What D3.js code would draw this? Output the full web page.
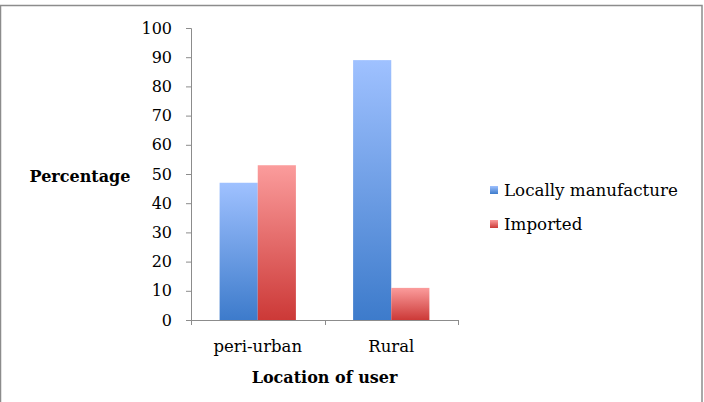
<!DOCTYPE html>
<html>
<head>
<meta charset="utf-8">
<script src="https://cdn.jsdelivr.net/npm/d3@7"></script>
<style>
  body { margin: 0; background: #fff; }
  text { font-family: "DejaVu Serif", "Liberation Serif", serif; fill: #000; }
</style>
</head>
<body>
<div id="chart"></div>
<script>
// Location of user vs origin of product

const categories = ["peri-urban", "Rural"];
const seriesNames = ["Locally manufacture", "Imported"];
const localValues = [47, 89];
const importedValues = [53, 11];
const yTicks = [0, 10, 20, 30, 40, 50, 60, 70, 80, 90, 100];

const width = 704;
const height = 402;
const margin = {top: 28, left: 191, right: 246, bottom: 82};

const svg = d3.select("#chart")
    .append("svg")
    .attr("width", width)
    .attr("height", height);

// outer frame
svg.append("rect")
    .attr("x", 0.5)
    .attr("y", 5.5)
    .attr("width", 701.5)
    .attr("height", 410)
    .attr("fill", "none")
    .attr("stroke", "#8c8c8c")
    .attr("stroke-width", 1.5);

const defs = svg.append("defs");
const gradColors = [["#9fc1ff", "#3d7bcb"], ["#fb9c9c", "#cc3937"]];
gradColors.forEach((c, i) => {
    const g = defs.append("linearGradient")
        .attr("id", "grad" + i)
        .attr("x1", 0).attr("y1", 0).attr("x2", 0).attr("y2", 1);
    g.append("stop").attr("offset", "0%").attr("stop-color", c[0]);
    g.append("stop").attr("offset", "100%").attr("stop-color", c[1]);
});

const inner = svg.append("g")
    .attr("transform", `translate(${margin.left}, ${margin.top})`);

const xScale = d3.scaleBand()
    .domain(categories)
    .range([0, 267]);

const xSub = d3.scaleBand()
    .domain(seriesNames)
    .range([0, xScale.bandwidth()])
    .paddingOuter(0.75);

const yScale = d3.scaleLinear()
    .domain([0, 100])
    .range([292, 0]);

const data = categories.map((c, i) => ({
    category: c,
    values: [localValues[i], importedValues[i]]
}));

// y axis
const yAxis = inner.append("g")
    .call(d3.axisLeft(yScale).tickValues(yTicks).tickSize(5).tickPadding(14));
yAxis.select(".domain").attr("stroke", "#8c8c8c").attr("d", "M-5,0.5H0.5V292.5");
yAxis.selectAll(".tick line").attr("stroke", "#8c8c8c");
yAxis.selectAll(".tick text")
    .style("font-size", "16px")
    .attr("font-family", null);

// x axis
const xAxis = inner.append("g")
    .attr("transform", "translate(0, 292)")
    .call(d3.axisBottom(xScale).tickSize(0).tickPadding(20));
xAxis.select(".domain").attr("stroke", "#8c8c8c").attr("d", "M0.5,0.5H267.5");
xAxis.selectAll(".tick text")
    .style("font-size", "16.5px")
    .attr("font-family", null);
xAxis.selectAll(".sep")
    .data([0, ...categories.map(c => xScale(c) + xScale.bandwidth())])
    .join("line")
    .attr("class", "sep")
    .attr("x1", d => Math.round(d) + 0.5)
    .attr("x2", d => Math.round(d) + 0.5)
    .attr("y1", 0)
    .attr("y2", 5)
    .attr("stroke", "#8c8c8c");

// bars
inner.selectAll(".group")
    .data(data)
    .join("g")
    .attr("class", "group")
    .attr("transform", d => `translate(${xScale(d.category)}, 0)`)
    .selectAll("rect")
    .data(d => d.values.map((v, i) => ({name: seriesNames[i], value: v, i: i})))
    .join("rect")
    .attr("x", d => xSub(d.name))
    .attr("y", d => yScale(d.value))
    .attr("width", xSub.bandwidth())
    .attr("height", d => yScale(0) - yScale(d.value))
    .attr("fill", d => `url(#grad${d.i})`);

// axis titles
svg.append("text")
    .attr("x", 80)
    .attr("y", 182)
    .attr("text-anchor", "middle")
    .style("font-size", "16px")
    .style("font-weight", "bold")
    .text("Percentage");

svg.append("text")
    .attr("x", margin.left + 267 / 2)
    .attr("y", 383)
    .attr("text-anchor", "middle")
    .style("font-size", "16px")
    .style("font-weight", "bold")
    .text("Location of user");

// legend
const legend = svg.append("g")
    .attr("transform", "translate(490, 186)");
seriesNames.forEach((name, i) => {
    legend.append("rect")
        .attr("x", 0)
        .attr("y", i * 34)
        .attr("width", 8)
        .attr("height", 8)
        .attr("fill", `url(#grad${i})`);
    legend.append("text")
        .attr("x", 14)
        .attr("y", i * 34 + 10)
        .style("font-size", "16.7px")
        .text(name);
});
</script>
</body>
</html>
